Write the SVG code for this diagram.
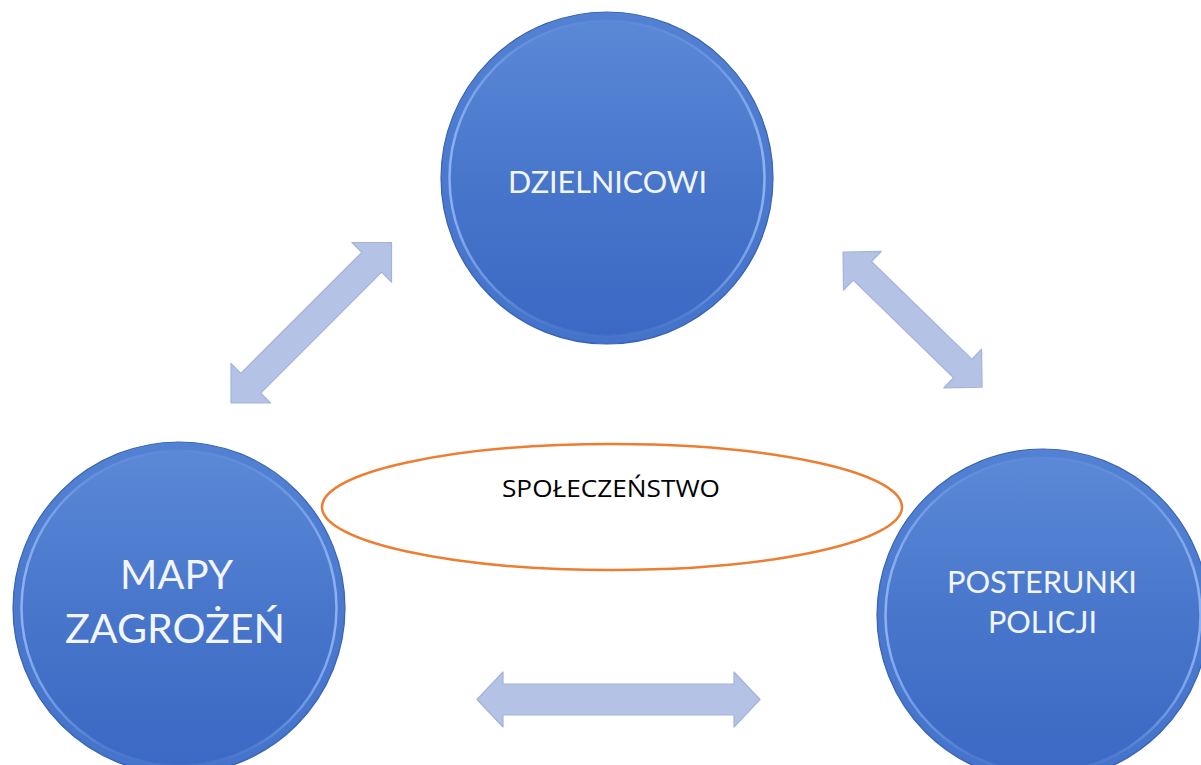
<svg xmlns="http://www.w3.org/2000/svg" width="1201" height="765" viewBox="0 0 1201 765">
<defs>
<linearGradient id="fillG" x1="0" y1="0" x2="0" y2="1">
<stop offset="0" stop-color="#5C89D7"/>
<stop offset="0.5" stop-color="#4876CB"/>
<stop offset="1" stop-color="#3A68C3"/>
</linearGradient>
<linearGradient id="bevelG" x1="0" y1="0" x2="1" y2="0">
<stop offset="0" stop-color="#9CC0FA" stop-opacity="0.8"/>
<stop offset="0.25" stop-color="#7FA6EA" stop-opacity="0.3"/>
<stop offset="0.5" stop-color="#6E98E0" stop-opacity="0.1"/>
<stop offset="0.75" stop-color="#7FA6EA" stop-opacity="0.3"/>
<stop offset="1" stop-color="#9CC0FA" stop-opacity="0.8"/>
</linearGradient>
<g id="disc">
<circle r="166" fill="url(#fillG)" stroke="#3863B3" stroke-width="1.2"/>
<circle r="161.5" fill="none" stroke="#4C7BD0" stroke-opacity="0.6" stroke-width="7"/>
<circle r="157.5" fill="none" stroke="url(#bevelG)" stroke-width="2.5"/>
</g>
</defs>
<style>
.lbl{font-family:Lato,"Open Sans","Liberation Sans",sans-serif;fill:#F2F5FC;text-anchor:middle}
.arr{fill:#B4C2E6;stroke:#A3B3DC;stroke-width:1.2;stroke-linejoin:round}
.mid{font-family:"Open Sans","Liberation Sans",sans-serif;fill:#000;text-anchor:middle;font-size:23px}
</style>
<rect width="1201" height="765" fill="#FFFFFF"/>
<g id="connectors">
<polygon class="arr" transform="translate(231,403) rotate(-45)" points="0,0 28,-28 28,-14 199,-14 199,-28 227,0 199,28 199,14 28,14 28,28"/>
<polygon class="arr" transform="translate(843,252) rotate(44.2)" points="0,0 27,-27 27,-13 167,-13 167,-27 194,0 167,27 167,13 27,13 27,27"/>
<polygon class="arr" transform="translate(477,699.5)" points="0,0 26,-27.5 26,-15.5 257,-15.5 257,-27.5 283,0 257,27.5 257,15.5 26,15.5 26,27.5"/>
</g>
<g id="node-dzielnicowi">
<use href="#disc" x="607" y="178"/>
<text class="lbl" x="607.5" y="193" font-size="31" textLength="199" lengthAdjust="spacingAndGlyphs">DZIELNICOWI</text>
</g>
<g id="node-mapy">
<use href="#disc" x="179" y="608"/>
<text class="lbl" x="176.5" y="589" font-size="40" textLength="113" lengthAdjust="spacingAndGlyphs">MAPY</text>
<text class="lbl" x="175" y="643" font-size="40" textLength="220" lengthAdjust="spacingAndGlyphs">ZAGROŻEŃ</text>
</g>
<g id="node-posterunki">
<use href="#disc" x="1043" y="615"/>
<text class="lbl" x="1042" y="593" font-size="30" textLength="190" lengthAdjust="spacingAndGlyphs">POSTERUNKI</text>
<text class="lbl" x="1042.5" y="633" font-size="30" textLength="109" lengthAdjust="spacingAndGlyphs">POLICJI</text>
</g>
<g id="node-spoleczenstwo">
<ellipse cx="612" cy="507" rx="290" ry="63" fill="none" stroke="#ED7D31" stroke-width="2.5"/>
<text class="mid" x="611" y="497" textLength="218" lengthAdjust="spacingAndGlyphs">SPOŁECZEŃSTWO</text>
</g>
</svg>
